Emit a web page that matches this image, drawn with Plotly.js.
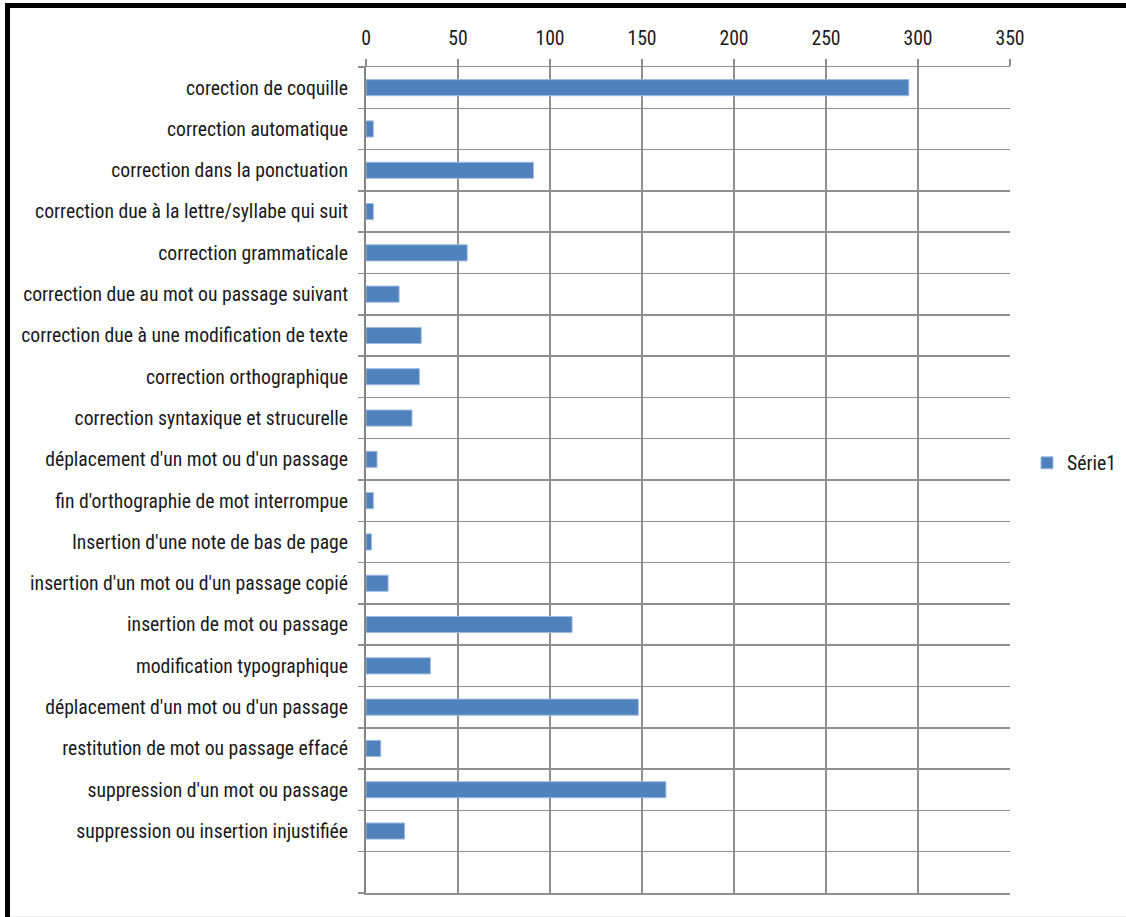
<!DOCTYPE html>
<html>
<head>
<meta charset="utf-8">
<script src="https://cdn.plot.ly/plotly-3.0.1.min.js"></script>
<style>
  html, body { margin: 0; padding: 0; background: #fff; }
  #wrap { position: relative; width: 1126px; height: 917px; overflow: hidden; }
  #chart { position: absolute; left: 0; top: 0; width: 1126px; height: 917px; }
  #frame {
    position: absolute; left: 5px; top: 3px; right: 0; bottom: -10px;
    border-top: 5px solid #000; border-left: 5px solid #000;
    pointer-events: none;
  }
  #foot { position: absolute; left: 10px; right: 0; bottom: 0; height: 1px; background: #ececec; }
</style>
</head>
<body>
<div id="wrap">
  <div id="chart"></div>
  <div id="frame"></div>
  <div id="foot"></div>
</div>
<script>
// Types de corrections, du haut vers le bas
const categories = [
  "corection de coquille",
  "correction automatique",
  "correction dans la ponctuation",
  "correction due à la lettre/syllabe qui suit",
  "correction grammaticale",
  "correction due au mot ou passage suivant",
  "correction due à une modification de texte",
  "correction orthographique",
  "correction syntaxique et strucurelle",
  "déplacement d'un mot ou d'un passage",
  "fin d'orthographie de mot interrompue",
  "Insertion d'une note de bas de page",
  "insertion d'un mot ou d'un passage copié",
  "insertion de mot ou passage",
  "modification typographique",
  "déplacement d'un mot ou d'un passage",
  "restitution de mot ou passage effacé",
  "suppression d'un mot ou passage",
  "suppression ou insertion injustifiée"
];
const serie1 = [295, 4, 91, 4, 55, 18, 30, 29, 25, 6, 4, 3, 12, 112, 35, 148, 8, 163, 21];
const xTicks = [0, 50, 100, 150, 200, 250, 300, 350];
const seriesName = "Série1";

// one empty slot is kept below the last row
const slots = categories.length + 1;
const rowPos = categories.map((_, i) => i);
const boundaries = Array.from({length: slots + 1}, (_, i) => i - 0.5);

const FONT = '"Roboto Condensed", "Liberation Sans Narrow", sans-serif';
const FS = 19.7;
const GRID = '#8f8f8f';

const trace = {
  type: 'bar',
  orientation: 'h',
  name: seriesName,
  x: serie1,
  y: rowPos,
  width: 0.39,
  marker: { color: '#4f81bd', line: { color: '#9dbbe0', width: 1 } },
  hoverinfo: 'x+text',
  text: categories,
  textposition: 'none'
};

const layout = {
  width: 1126,
  height: 917,
  margin: { l: 366, r: 116, t: 67, b: 24, pad: 0 },
  paper_bgcolor: 'rgba(0,0,0,0)',
  plot_bgcolor: '#ffffff',
  font: { family: FONT, size: FS, color: '#1a1a1a' },
  showlegend: true,
  legend: {
    xref: 'container', yref: 'container',
    x: 1027 / 1126, y: 1 - 463 / 917, xanchor: 'left', yanchor: 'middle',
    font: { family: FONT, size: FS, color: '#1a1a1a' },
    itemwidth: 30, bgcolor: 'rgba(0,0,0,0)'
  },
  xaxis: {
    side: 'top',
    range: [0, 350],
    tickmode: 'array',
    tickvals: xTicks,
    ticktext: xTicks.map(String),
    showgrid: true,
    gridcolor: GRID,
    gridwidth: 1.5,
    zeroline: false,
    showline: true,
    mirror: true,
    linecolor: GRID,
    linewidth: 1.5,
    ticks: 'outside',
    ticklen: 7,
    tickwidth: 1.5,
    tickcolor: GRID,
    ticklabelstandoff: 6,
    tickfont: { family: FONT, size: FS, color: '#1a1a1a' },
    fixedrange: true
  },
  yaxis: {
    range: [slots - 0.5, -0.5],
    tickmode: 'array',
    tickvals: rowPos,
    ticktext: categories,
    ticks: '',
    showgrid: false,
    zeroline: false,
    showline: true,
    linecolor: '#858585',
    linewidth: 2,
    ticklabelstandoff: 12,
    tickfont: { family: FONT, size: FS, color: '#1a1a1a' },
    minor: {
      tickmode: 'array',
      tickvals: boundaries,
      showgrid: true,
      gridcolor: GRID,
      gridwidth: 1.5,
      ticks: 'outside',
      ticklen: 6,
      tickwidth: 1.5,
      tickcolor: GRID
    },
    fixedrange: true
  }
};

Plotly.newPlot('chart', [trace], layout, { displayModeBar: false, staticPlot: true });
</script>
</body>
</html>
